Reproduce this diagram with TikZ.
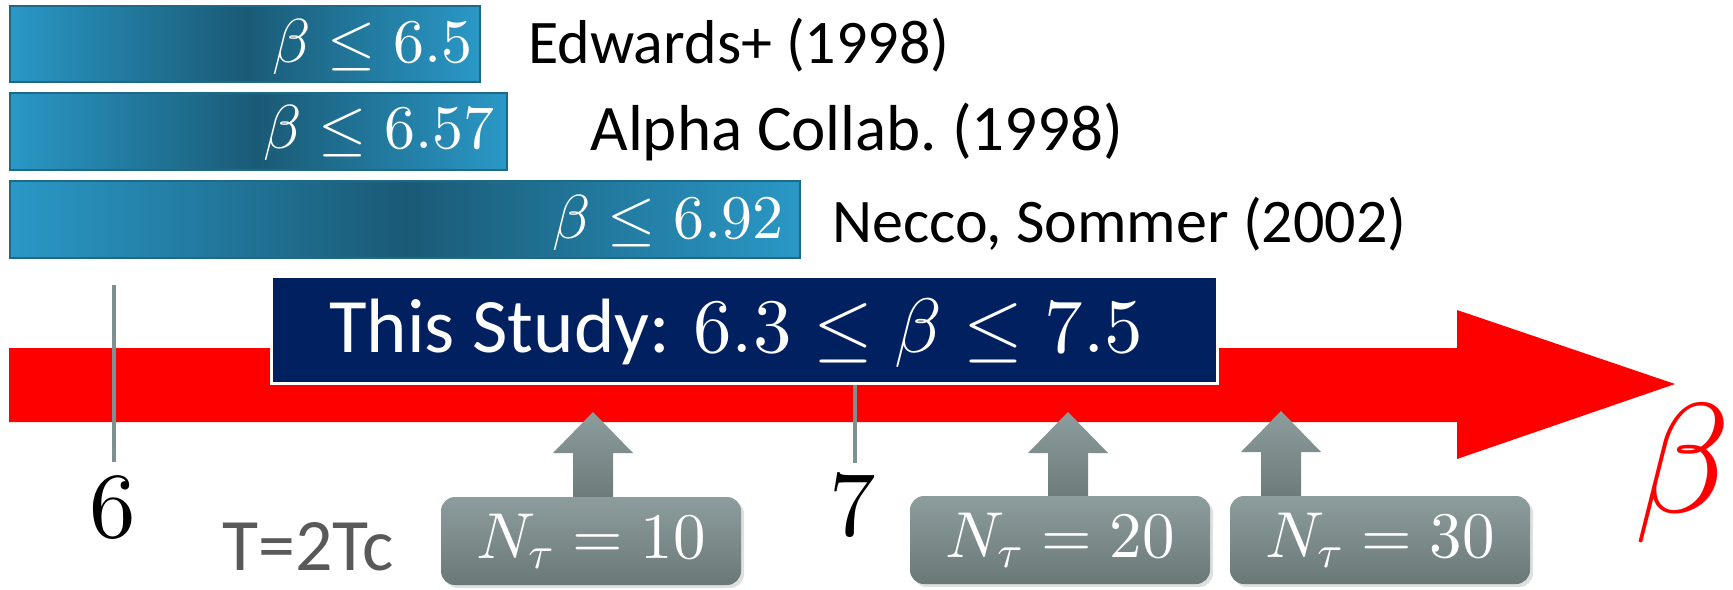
\documentclass[tikz,border=0pt]{standalone}
\usepackage{fontspec}
\newfontfamily\calibri{Carlito}
\usetikzlibrary{calc,shadows}
\frenchspacing

% let the Computer Modern math fonts scale to any size
\DeclareFontShape{OT1}{cmr}{m}{n}{<-> cmr10}{}
\DeclareFontShape{OML}{cmm}{m}{it}{<-> cmmi10}{}
\DeclareFontShape{OMS}{cmsy}{m}{n}{<-> cmsy10}{}

\definecolor{barLight}{HTML}{2A98C6}
\definecolor{barDark}{HTML}{1A5A76}
\definecolor{barEdge}{HTML}{1E6987}
\definecolor{navy}{HTML}{002060}
\definecolor{axisred}{HTML}{FF0000}
\definecolor{tickgray}{HTML}{7F9090}
\definecolor{boxTop}{HTML}{8D9C9C}
\definecolor{boxBottom}{HTML}{6A7878}
\definecolor{labelgray}{HTML}{595959}

% block arrow pointing up, tip at the given coordinate
\newcommand\tauarrow[1]{%
  \shade[top color=boxTop, bottom color=boxBottom]
    ($(#1)+(-20,93)$) -- ++(0,-52) -- ++(-20,0) -- (#1) -- ++(40,41)
    -- ++(-20,0) -- ++(0,52) -- cycle;}

\begin{document}
\begin{tikzpicture}[x=0.5pt,y=-0.5pt,
  limitbar/.style={draw=barEdge, line width=1pt, left color=barLight,
    right color=barLight, middle color=barDark, anchor=north west,
    inner sep=0pt, minimum height=38.5pt},
  bartext/.style={anchor=base east, inner sep=0pt, text=white,
    font=\fontsize{31}{31}\selectfont},
  reflabel/.style={anchor=base west, inner sep=0pt,
    font=\calibri\fontsize{31}{31}\selectfont},
  tickline/.style={draw=tickgray, line width=2pt},
  ticklabel/.style={anchor=base, inner sep=0pt,
    font=\fontsize{46.5}{46.5}\selectfont},
  studybox/.style={fill=navy, draw=white, line width=1.5pt, anchor=north west,
    inner sep=0pt, minimum width=473pt, minimum height=53.5pt},
  nbox/.style={rounded corners=7pt, top color=boxTop, bottom color=boxBottom,
    minimum width=150pt, minimum height=44pt, inner sep=0pt, text=white,
    font=\fontsize{32.5}{32.5}\selectfont,
    drop shadow={opacity=0.25, shadow xshift=1.5pt, shadow yshift=-1.5pt}},
]
\useasboundingbox (0,0) rectangle (1733,589);

% earlier bounds on beta
\node[limitbar, minimum width=235pt, minimum height=38pt] (bar1) at (9,5) {};
\node[limitbar, minimum width=248.5pt] (bar2) at (9,92) {};
\node[limitbar, minimum width=395pt] (bar3) at (9,180) {};
\node[bartext] (bar1t) at (473,62) {$\beta \leq 6.5$};
\node[bartext] (bar2t) at (495,148) {$\beta \leq 6.57$};
\node[bartext] (bar3t) at (784,238) {$\beta \leq 6.92$};

\node[reflabel] (ref1) at (528,63) {Edwards+ (1998)};
\node[reflabel, font=\calibri\fontsize{32.5}{32.5}\selectfont] (ref2) at (590,150) {Alpha Collab. (1998)};
\node[reflabel] (ref3) at (832,242) {Necco, Sommer (2002)};

% beta axis
\fill[axisred] (9,348) -- (1457,348) -- (1457,310) -- (1675,384)
  -- (1457,459) -- (1457,422) -- (9,422) -- cycle;

% ticks
\coordinate (t6top) at (114,285);
\coordinate (t6bot) at (114,462);
\coordinate (t7top) at (855,340);
\coordinate (t7bot) at (855,463);
\draw[tickline] (t6top) -- (t6bot);
\draw[tickline] (t7top) -- (t7bot);
\node[ticklabel] (six) at (113,537) {$6$};
\node[ticklabel] (seven) at (853,535) {$7$};

% range of this study
\node[studybox] (study) at (270,275) {};
\node[anchor=base west, inner sep=0pt, text=white,
  font=\fontsize{38.5}{38.5}\selectfont] (studyt) at (329,352)
  {{\calibri This Study:} $6.3 \leq \beta \leq 7.5$};

% temporal extents
\coordinate (a10) at (593,412);
\coordinate (a20) at (1068,412);
\coordinate (a30) at (1281,411);
\tauarrow{a10}
\tauarrow{a20}
\tauarrow{a30}
\node[nbox] (n10) at (591,541) {$N_\tau = 10$};
\node[nbox] (n20) at (1060,540) {$N_\tau = 20$};
\node[nbox] (n30) at (1380,540) {$N_\tau = 30$};

\node[anchor=base west, inner sep=0pt, text=labelgray,
  font=\calibri\fontsize{37}{37}\selectfont] (temp) at (222,570) {T=2Tc};

\node[anchor=base west, inner sep=0pt, text=axisred,
  font=\fontsize{78}{78}\selectfont] (betalabel) at (1634,512) {$\beta$};
\end{tikzpicture}
\end{document}
